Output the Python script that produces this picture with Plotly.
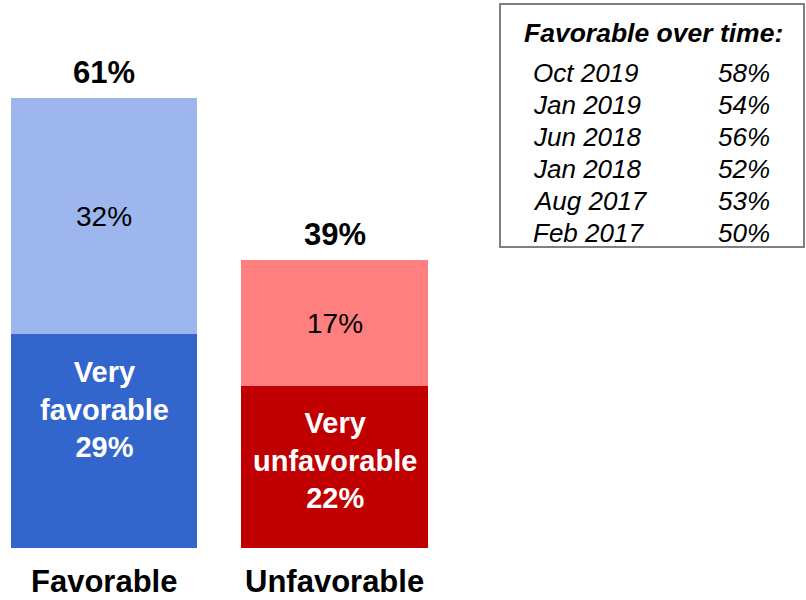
import plotly.graph_objects as go

categories = ["Favorable", "Unfavorable"]
very_labels = ["Very<br>favorable", "Very<br>unfavorable"]
very_values = [29, 22]
somewhat_values = [32, 17]
totals = [61, 39]
very_colors = ["#3366CC", "#C00000"]
somewhat_colors = ["#9DB7EE", "#FF7F7F"]

trend_dates = ["Oct 2019", "Jan 2019", "Jun 2018", "Jan 2018", "Aug 2017", "Feb 2017"]
trend_values = [58, 54, 56, 52, 53, 50]

FONT = "Liberation Sans, Arial, sans-serif"
xs = [0, 1]

W, H = 806, 600
PH = 548  # plot area height in px (bottom margin 52)

fig = go.Figure()
fig.add_trace(go.Bar(
    x=xs, y=very_values, width=0.807,
    marker=dict(color=very_colors, line=dict(width=0)),
    hoverinfo="skip",
))
fig.add_trace(go.Bar(
    x=xs, y=somewhat_values, width=0.807,
    marker=dict(color=somewhat_colors, line=dict(width=0)),
    hoverinfo="skip",
))

annotations = []
for x, cat, lab, v, s, t in zip(xs, categories, very_labels, very_values, somewhat_values, totals):
    # total above the bar
    annotations.append(dict(
        x=x, y=t, xref="x", yref="y", text="<b>%d%%</b>" % t,
        showarrow=False, yanchor="bottom", yshift=6,
        font=dict(family=FONT, size=31, color="black"),
    ))
    # somewhat segment
    annotations.append(dict(
        x=x, y=v + s / 2, xref="x", yref="y", text="%d%%" % s,
        showarrow=False, yanchor="middle",
        font=dict(family=FONT, size=28, color="black"),
    ))
    # very segment
    annotations.append(dict(
        x=x, y=v - 10.2, xref="x", yref="y", text="<b>%s<br>%d%%</b>" % (lab, v),
        showarrow=False, yanchor="middle",
        font=dict(family=FONT, size=29, color="white"),
    ))
    # category label
    annotations.append(dict(
        x=x, y=0, xref="x", yref="y", text="<b>%s</b>" % cat,
        showarrow=False, yanchor="top", yshift=-15, borderpad=0,
        font=dict(family=FONT, size=31, color="black"),
    ))

# Favorable over time box
annotations.append(dict(
    x=653 / W, y=1 - 33 / PH, xref="paper", yref="paper",
    text="<b><i>Favorable over time:</i></b>", showarrow=False,
    xanchor="center", yanchor="middle",
    font=dict(family=FONT, size=26.5, color="black"),
))
for i, (d, v) in enumerate(zip(trend_dates, trend_values)):
    ypx = 73 + i * 32
    annotations.append(dict(
        x=531 / W, y=1 - ypx / PH, xref="paper", yref="paper",
        text="<i>%s</i>" % d, showarrow=False, xanchor="left", yanchor="middle",
        font=dict(family=FONT, size=26, color="black"),
    ))
    annotations.append(dict(
        x=772 / W, y=1 - ypx / PH, xref="paper", yref="paper",
        text="<i>%d%%</i>" % v, showarrow=False, xanchor="right", yanchor="middle",
        font=dict(family=FONT, size=26, color="black"),
    ))

fig.add_shape(
    type="rect", xref="paper", yref="paper",
    x0=500 / W, x1=804 / W, y0=1 - 247 / PH, y1=1 - 4 / PH,
    line=dict(color="#808080", width=2), fillcolor="rgba(0,0,0,0)",
)

fig.update_layout(
    width=W, height=H,
    barmode="stack",
    showlegend=False,
    margin=dict(l=0, r=0, t=0, b=H - PH),
    paper_bgcolor="white",
    plot_bgcolor="white",
    annotations=annotations,
    xaxis=dict(range=[-104 / 230.5, (806 - 104) / 230.5], visible=False, fixedrange=True),
    yaxis=dict(range=[0, PH / 7.377], visible=False, fixedrange=True),
)

fig.write_html("out.html", config={"displayModeBar": False},
               post_script="document.body.style.margin='0';")
